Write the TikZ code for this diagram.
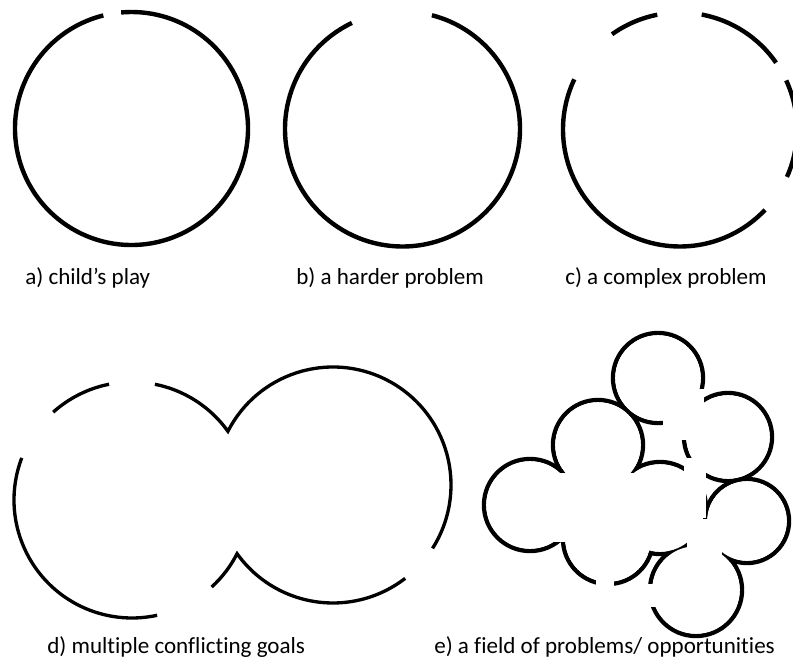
\documentclass[tikz,border=0pt]{standalone}
\usepackage{fontspec}
\setmainfont[Ligatures=NoCommon]{Carlito}

\begin{document}
\begin{tikzpicture}[x=0.75pt,y=0.75pt,
    ring/.style={line width=3.3pt},
    thinring/.style={line width=2.5pt,miter limit=10},
    gapbox/.style={fill=white,draw=none},
    caption/.style={anchor=base west,inner sep=0pt,font=\fontsize{17.3}{20}\selectfont}]
\useasboundingbox (0,0) rectangle (793,669);
\clip (0,0) rectangle (793,669);

% a) one gap
\coordinate (ca) at (131.5,540.5);
\draw[ring] (ca) ++(104:116.5) arc[start angle=104,end angle=455.1,radius=116.5];

% b) a wider gap
\coordinate (cb) at (402.5,540);
\draw[ring] (cb) ++(115.5:117.5) arc[start angle=115.5,end angle=435.5,radius=117.5];

% c) several gaps
\coordinate (cc) at (680,539.5);
\draw[ring] (cc) ++(101.2:117) arc[start angle=101.2,end angle=125.5,radius=117];
\draw[ring] (cc) ++(34.8:117) arc[start angle=34.8,end angle=79.3,radius=117];
\draw[ring] (cc) ++(-23.9:117) arc[start angle=-23.9,end angle=24.8,radius=117];
\draw[ring] (cc) ++(154.6:117) arc[start angle=154.6,end angle=316.6,radius=117];

% d) two goals
\coordinate (dl) at (132,169);
\coordinate (dr) at (333,184);
\draw[thinring] (dl) ++(131.9:118) arc[start angle=131.9,end angle=101.2,radius=118];
\draw[thinring] (dl) ++(78.8:118) arc[start angle=78.8,end angle=35.61,radius=118]
    arc[start angle=152.93,end angle=-32.5,radius=118];
\draw[thinring] (dl) ++(159.1:118) arc[start angle=159.1,end angle=282.3,radius=118];
\draw[thinring] (dr) ++(-52.3:118) arc[start angle=-52.3,end angle=-144.39,radius=118]
    arc[start angle=-27.07,end angle=-47.5,radius=118];

% e) a cloud of circles
\foreach \n/\x/\y/\r in {e1/658/291/45, e2/728/232/44, e3/598/224/45, e4/530/164/46,
    e5/747/148/42, e6/696/79/46, e7/608/130/45, e8/660/161/46}{
  \coordinate (\n) at (\x,\y);
  \draw[ring] (\n) circle[radius=\r];
}
\foreach \n/\r in {e1/45, e2/44, e3/45, e4/46, e5/42, e6/46, e7/45, e8/46}
  \fill[white] (\n) circle[radius=\r-2.2];

\fill[gapbox] (663,229) rectangle (703.5,280);
\fill[gapbox] (552,127) rectangle (703,196);
\fill[gapbox] (596,77) rectangle (614,97);
\fill[gapbox] (684,151) rectangle (706,211);
\fill[gapbox] (687,113) rectangle (722,150);
\fill[gapbox] (644,62) rectangle (666,85);

\node[caption] (capa) at (25,385) {a) child’s play};
\node[caption] (capb) at (296,385) {b) a harder problem};
\node[caption] (capc) at (565,385) {c) a complex problem};
\node[caption] (capd) at (47,16) {d) multiple conflicting goals};
\node[caption] (cape) at (434,16) {e) a field of problems/ opportunities};
\end{tikzpicture}
\end{document}
